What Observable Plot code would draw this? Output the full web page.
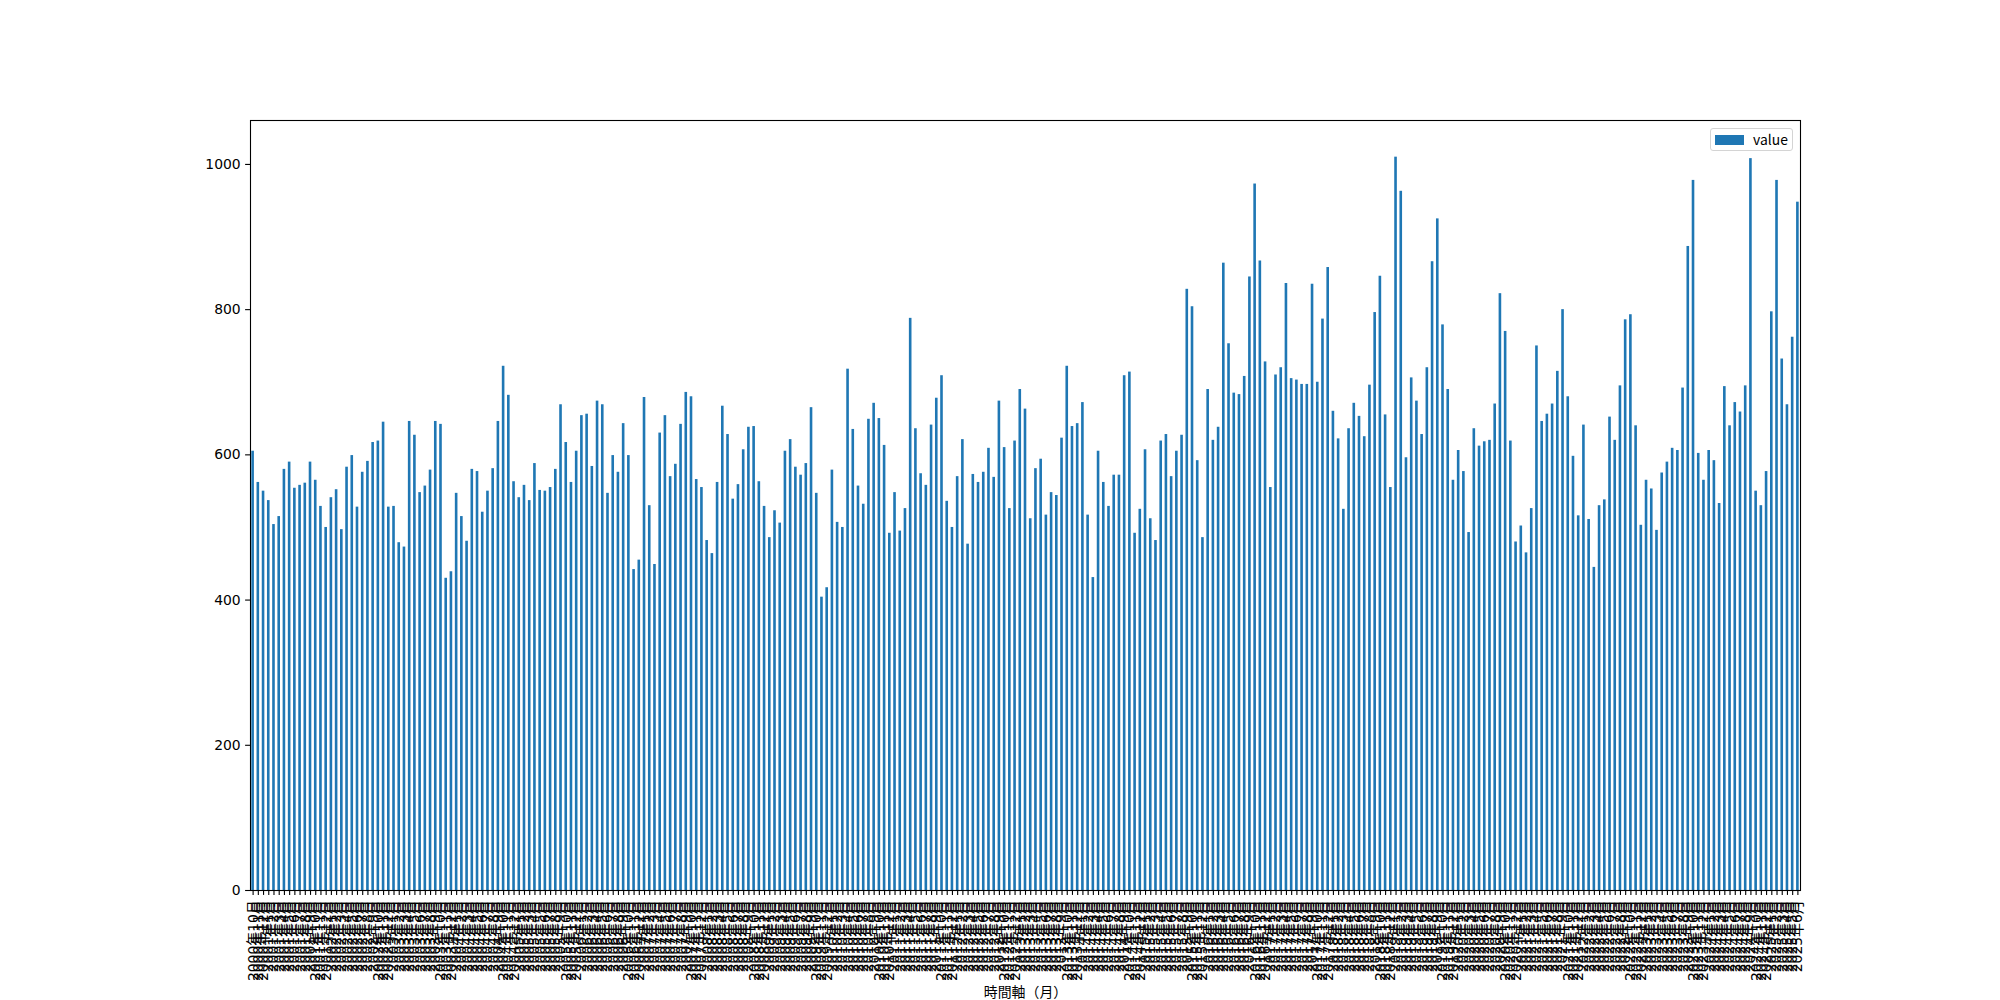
<!DOCTYPE html>
<html>
<head>
<meta charset="utf-8">
<script src="https://cdn.jsdelivr.net/npm/d3@7"></script>
<script src="https://cdn.jsdelivr.net/npm/@observablehq/plot@0.6"></script>
<style>
  html, body { margin: 0; padding: 0; background: #ffffff; }
  #wrap { position: relative; width: 2000px; height: 1000px; }
  #legend {
    position: absolute; left: 1710px; top: 128px; width: 83px; height: 23px;
    box-sizing: border-box; border: 1px solid #d4d4d4; border-radius: 3px; background: rgba(255,255,255,0.8);
    font-family: "Noto Sans CJK JP", "DejaVu Sans", sans-serif; font-size: 13.9px; color: #000;
  }
  #legend .sw { position: absolute; left: 4px; top: 6px; width: 29px; height: 10px; background: #1f77b4; }
  #legend .tx { position: absolute; left: 42px; top: 1px; line-height: 19px; }
</style>
</head>
<body>
<div id="wrap"><div id="chart"></div><div id="legend"><div class="sw"></div><div class="tx">value</div></div></div>
<script>
// First month of the series
const startYear = 2000;
const startMonth = 10; // October
const seriesName = "value";
const xTitle = "時間軸（月）";
const yTicks = [0, 200, 400, 600, 800, 1000];

const values = [
  605, 562, 550, 537, 504, 515, 580, 590, 554, 558, 561, 590, 565, 529, 500, 541, 552, 497, 583, 599, 528, 576, 591, 617, 619, 645, 528,
  529, 479, 473, 646, 627, 548, 557, 579, 646, 642, 430, 439, 547, 515, 481, 580, 577, 521, 550, 581, 646, 722, 682, 563, 541, 558, 537,
  588, 551, 550, 555, 580, 669, 617, 562, 605, 654, 656, 584, 674, 669, 547, 599, 576, 643, 599, 442, 455, 679, 530, 449, 630, 654, 570,
  587, 642, 686, 680, 566, 555, 482, 464, 562, 667, 628, 539, 559, 607, 638, 639, 563, 529, 486, 523, 506, 605, 621, 583, 572, 588, 665,
  547, 404, 417, 579, 507, 500, 718, 635, 557, 532, 649, 671, 650, 613, 492, 548, 495, 526, 788, 636, 574, 558, 641, 678, 709, 536, 500,
  570, 621, 477, 573, 562, 576, 609, 569, 674, 610, 526, 619, 690, 663, 512, 581, 594, 517, 548, 544, 623, 722, 639, 643, 672, 517, 431,
  605, 562, 529, 572, 572, 709, 714, 492, 525, 607, 512, 482, 619, 628, 570, 605, 627, 828, 804, 592, 486, 690, 620, 638, 864, 753, 685,
  683, 708, 845, 973, 867, 728, 555, 710, 720, 836, 705, 703, 697, 697, 835, 700, 787, 858, 660, 622, 525, 636, 671, 653, 625, 696, 796,
  846, 655, 555, 1010, 963, 596, 706, 674, 628, 720, 866, 925, 779, 690, 565, 606, 577, 493, 636, 612, 618, 620, 670, 822, 770, 619, 480,
  502, 465, 526, 750, 646, 656, 670, 715, 800, 680, 598, 516, 641, 511, 445, 530, 538, 652, 620, 695, 786, 793, 640, 503, 565, 553, 496,
  575, 590, 609, 606, 692, 887, 978, 602, 565, 606, 592, 533, 694, 640, 672, 659, 695, 1008, 550, 530, 577, 797, 978, 732, 669, 762, 948
];

// Month labels, e.g. "2000年10月"
const months = values.map((_, i) => {
  const m0 = startMonth - 1 + i;
  return `${startYear + Math.floor(m0 / 12)}年${(m0 % 12) + 1}月`;
});

const data = values.map((v, i) => ({month: months[i], value: v}));
const yMax = d3.max(values) * 1.05;

const chart = Plot.plot({
  width: 2000,
  height: 1000,
  marginLeft: 250,
  marginRight: 200,
  marginTop: 120,
  marginBottom: 110,
  style: {fontFamily: "'DejaVu Sans', 'Noto Sans CJK JP', sans-serif", fontSize: "13.9px", background: "#ffffff", color: "#000000", overflow: "visible"},
  x: {type: "band", domain: months, paddingInner: 0.5, paddingOuter: 0.25},
  y: {domain: [0, yMax]},
  marks: [
    Plot.barY(data, {x: "month", y: "value", fill: "#1f77b4"}),
    Plot.axisY({ticks: yTicks, tickSize: 4.9, tickPadding: 4.9, label: null, tickFormat: d => String(d), strokeWidth: 1.1, fontSize: 13.9}),
    Plot.axisX({tickSize: 4.9, tickPadding: 4.9, tickRotate: -90, label: xTitle, labelAnchor: "center", labelArrow: "none", labelOffset: 106, strokeWidth: 1.1, fontSize: 13.9}),
    Plot.frame({stroke: "#000000", strokeWidth: 1.1})
  ]
});
document.getElementById("chart").appendChild(chart);
</script>
</body>
</html>
